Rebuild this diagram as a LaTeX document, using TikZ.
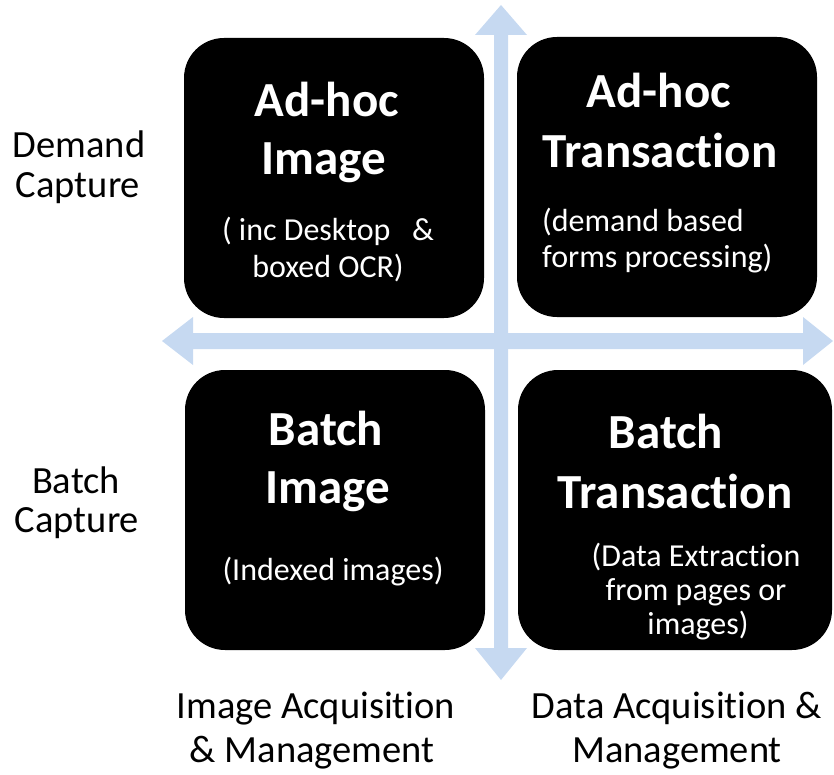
\documentclass[tikz,border=0pt]{standalone}
\usepackage{fontspec}
\setmainfont{Carlito}[Ligatures={NoCommon}]
\definecolor{axisblue}{RGB}{198,217,241}
\begin{document}
\begin{tikzpicture}[x=1pt, y=-1pt,
    card/.style={fill=black, rounded corners=40pt, minimum width=300pt, minimum height=280pt, inner sep=0pt},
    head/.style={text=white, anchor=base, inner sep=0pt, font=\fontsize{49}{58}\selectfont\bfseries},
    sub/.style={text=white, anchor=base, inner sep=0pt, font=\fontsize{32}{34}\selectfont},
    side/.style={anchor=base, inner sep=0pt, font=\fontsize{38.5}{44}\selectfont}]
    \useasboundingbox (0,0) rectangle (834,775) ;
    % the two axes
    \fill[axisblue] (501,5) -- (527,35) -- (508,35) -- (508,648) -- (527,648) -- (501,680)
      -- (475,648) -- (494,648) -- (494,35) -- (475,35) -- cycle ;
    \fill[axisblue] (162,341) -- (193,317) -- (193,333) -- (803,333) -- (803,317) -- (833,341)
      -- (803,365) -- (803,349) -- (193,349) -- (193,365) -- cycle ;
    % the four quadrants
    \node[card] (adimage) at (334,178) {} ;
    \node[card] (adtrans) at (667,177) {} ;
    \node[card] (bimage) at (335,510) {} ;
    \node[card, minimum width=314pt] (btrans) at (675,510) {} ;
    % ad-hoc image
    \node[head] (adimageA) at (327,117) {Ad-hoc} ;
    \node[head] (adimageB) at (324,175) {Image} ;
    \node[sub] (adimageC) at (328,241) {( inc Desktop ~ \&} ;
    \node[sub] (adimageD) at (328,277) {boxed OCR)} ;
    % ad-hoc transaction
    \node[head] (adtransA) at (659,108) {Ad-hoc} ;
    \node[head] (adtransB) at (660,168) {Transaction} ;
    \node[sub, anchor=base west] (adtransC) at (542,232) {(demand based} ;
    \node[sub, anchor=base west] (adtransD) at (542,268) {forms processing)} ;
    % batch image
    \node[head] (bimageA) at (326,445) {Batch} ;
    \node[head] (bimageB) at (328,503) {Image} ;
    \node[sub] (bimageC) at (333,580) {(Indexed images)} ;
    % batch transaction
    \node[head] (btransA) at (666,448) {Batch} ;
    \node[head] (btransB) at (675,508) {Transaction} ;
    \node[sub] (btransC) at (696,566) {(Data Extraction} ;
    \node[sub] (btransD) at (696,600) {from pages or} ;
    \node[sub] (btransE) at (698,634) {images)} ;
    % row and column labels
    \node[side] (demandA) at (79,158) {Demand} ;
    \node[side] (demandB) at (78,198) {Capture} ;
    \node[side] (batchA) at (76,493) {Batch} ;
    \node[side] (batchB) at (77,532) {Capture} ;
    \node[side] (imgcolA) at (316,718) {Image Acquisition} ;
    \node[side] (imgcolB) at (312,762) {\& Management} ;
    \node[side] (datcolA) at (677,718) {Data Acquisition \&} ;
    \node[side] (datcolB) at (677,762) {Management} ;
\end{tikzpicture}
\end{document}
